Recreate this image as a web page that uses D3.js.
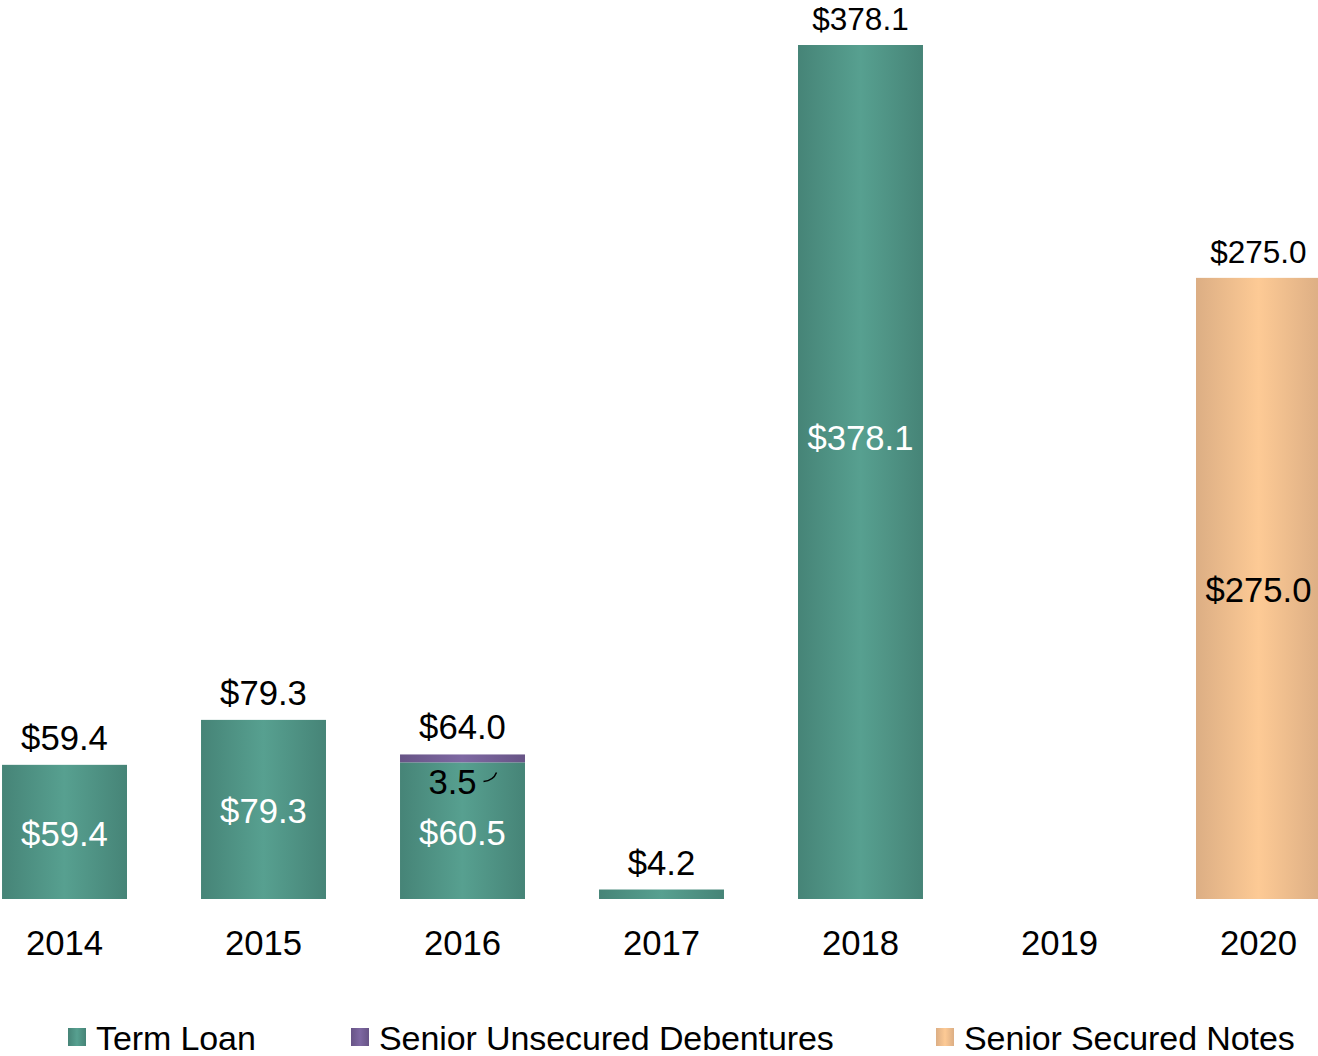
<!DOCTYPE html>
<html>
<head>
<meta charset="utf-8">
<script src="https://cdn.jsdelivr.net/npm/d3@7"></script>
<style>
  body { margin: 0; background: #fff; }
  svg text { font-family: "Liberation Sans", Arial, sans-serif; }
</style>
</head>
<body>
<div class="chart"></div>
<script>
const years = ['2014', '2015', '2016', '2017', '2018', '2019', '2020'];
const termLoan = [59.4, 79.3, 60.5, 4.2, 378.1, 0, 0];
const debentures = [0, 0, 3.5, 0, 0, 0, 0];
const securedNotes = [0, 0, 0, 0, 0, 0, 275.0];
const totals = ['$59.4', '$79.3', '$64.0', '$4.2', '$378.1', '', '$275.0'];
const seriesNames = ['Term Loan', 'Senior Unsecured Debentures', 'Senior Secured Notes'];

const width = 1318,
  height = 1056,
  baseline = 899,
  fontSize = 34.7;

const series = [
  { key: 'tl', name: seriesNames[0], values: termLoan, dark: '#468477', light: '#57a090', text: '#fff' },
  { key: 'sud', name: seriesNames[1], values: debentures, dark: '#675486', light: '#7e68a2', text: '#000' },
  { key: 'ssn', name: seriesNames[2], values: securedNotes, dark: '#dcae84', light: '#fdca95', text: '#000' }
];

const svg = d3.select('.chart').append('svg')
  .attr('width', width)
  .attr('height', height);

// horizontal gradients, darker on the edges
const defs = svg.append('defs');
series.forEach(s => {
  const g = defs.append('linearGradient')
    .attr('id', 'grad-' + s.key)
    .attr('x1', '0%').attr('x2', '100%').attr('y1', '0%').attr('y2', '0%');
  g.append('stop').attr('offset', '0%').attr('stop-color', s.dark);
  g.append('stop').attr('offset', '50%').attr('stop-color', s.light);
  g.append('stop').attr('offset', '100%').attr('stop-color', s.dark);
});

const x = d3.scaleBand()
  .domain(years)
  .range([-72, 1395])
  .padding(0.372);

const y = d3.scaleLinear()
  .domain([0, 378.1])
  .range([baseline, 45]);

// stack the series
const rows = years.map((yr, i) => {
  const r = { year: yr };
  series.forEach(s => (r[s.key] = s.values[i]));
  return r;
});
const stacked = d3.stack().keys(series.map(s => s.key))(rows);

stacked.forEach((layer, li) => {
  const s = series[li];
  const g = svg.append('g').attr('class', 'layer-' + s.key);

  g.selectAll('rect')
    .data(layer.filter(d => d[1] - d[0] > 0))
    .enter()
    .append('rect')
    .attr('x', d => x(d.data.year))
    .attr('y', d => y(d[1]))
    .attr('width', x.bandwidth())
    .attr('height', d => y(d[0]) - y(d[1]))
    .attr('fill', `url(#grad-${s.key})`);

  // inner labels for the tall segments
  g.selectAll('text')
    .data(layer.filter(d => y(d[0]) - y(d[1]) > 60))
    .enter()
    .append('text')
    .attr('x', d => x(d.data.year) + x.bandwidth() / 2)
    .attr('y', d => (d.data.year === '2018' ? y(d[1]) + 405 : (y(d[0]) + y(d[1])) / 2 + 14))
    .attr('text-anchor', 'middle')
    .attr('font-size', fontSize)
    .attr('fill', s.text)
    .text(d => '$' + (d[1] - d[0]).toFixed(1));
});

// small debenture label with a leader line
const deb = stacked[1].filter(d => d[1] - d[0] > 0);
deb.forEach(d => {
  const cx = x(d.data.year) + x.bandwidth() / 2;
  const ym = y(d[1]);
  svg.append('text')
    .attr('x', cx - 10)
    .attr('y', ym + 40)
    .attr('text-anchor', 'middle')
    .attr('font-size', fontSize)
    .attr('fill', '#000')
    .text((d[1] - d[0]).toFixed(1));
  svg.append('path')
    .attr('d', `M${cx + 21},${ym + 27} Q${cx + 31},${ym + 26} ${cx + 34},${ym + 18}`)
    .attr('fill', 'none')
    .attr('stroke', '#000')
    .attr('stroke-width', 1.5);
});

// totals above bars (the two tall bars use a slightly smaller size)
svg.append('g').selectAll('text')
  .data(years.map((yr, i) => ({ year: yr, total: termLoan[i] + debentures[i] + securedNotes[i], label: totals[i] })))
  .enter()
  .append('text')
  .attr('x', d => x(d.year) + x.bandwidth() / 2)
  .attr('y', d => y(d.total) - 15)
  .attr('text-anchor', 'middle')
  .attr('font-size', d => (d.total > 200 ? 31.5 : fontSize))
  .attr('fill', '#000')
  .text(d => d.label);

// x axis labels
const xAxis = svg.append('g')
  .attr('transform', `translate(0, ${baseline})`)
  .call(d3.axisBottom(x).tickSize(0).tickPadding(0));
xAxis.select('.domain').remove();
xAxis.selectAll('text')
  .attr('font-size', fontSize)
  .attr('font-family', '"Liberation Sans", Arial, sans-serif')
  .attr('fill', '#000')
  .attr('dy', null)
  .attr('y', 56);

// legend
const legendX = [68, 351, 936];
const legend = svg.append('g').attr('class', 'legend');
series.forEach((s, i) => {
  const item = legend.append('g').attr('transform', `translate(${legendX[i]}, 1028)`);
  item.append('rect')
    .attr('width', 18)
    .attr('height', 18)
    .attr('fill', `url(#grad-${s.key})`);
  item.append('text')
    .attr('x', 28)
    .attr('y', 22)
    .attr('font-size', 34)
    .attr('letter-spacing', -0.1)
    .attr('fill', '#000')
    .text(s.name);
});
</script>
</body>
</html>
